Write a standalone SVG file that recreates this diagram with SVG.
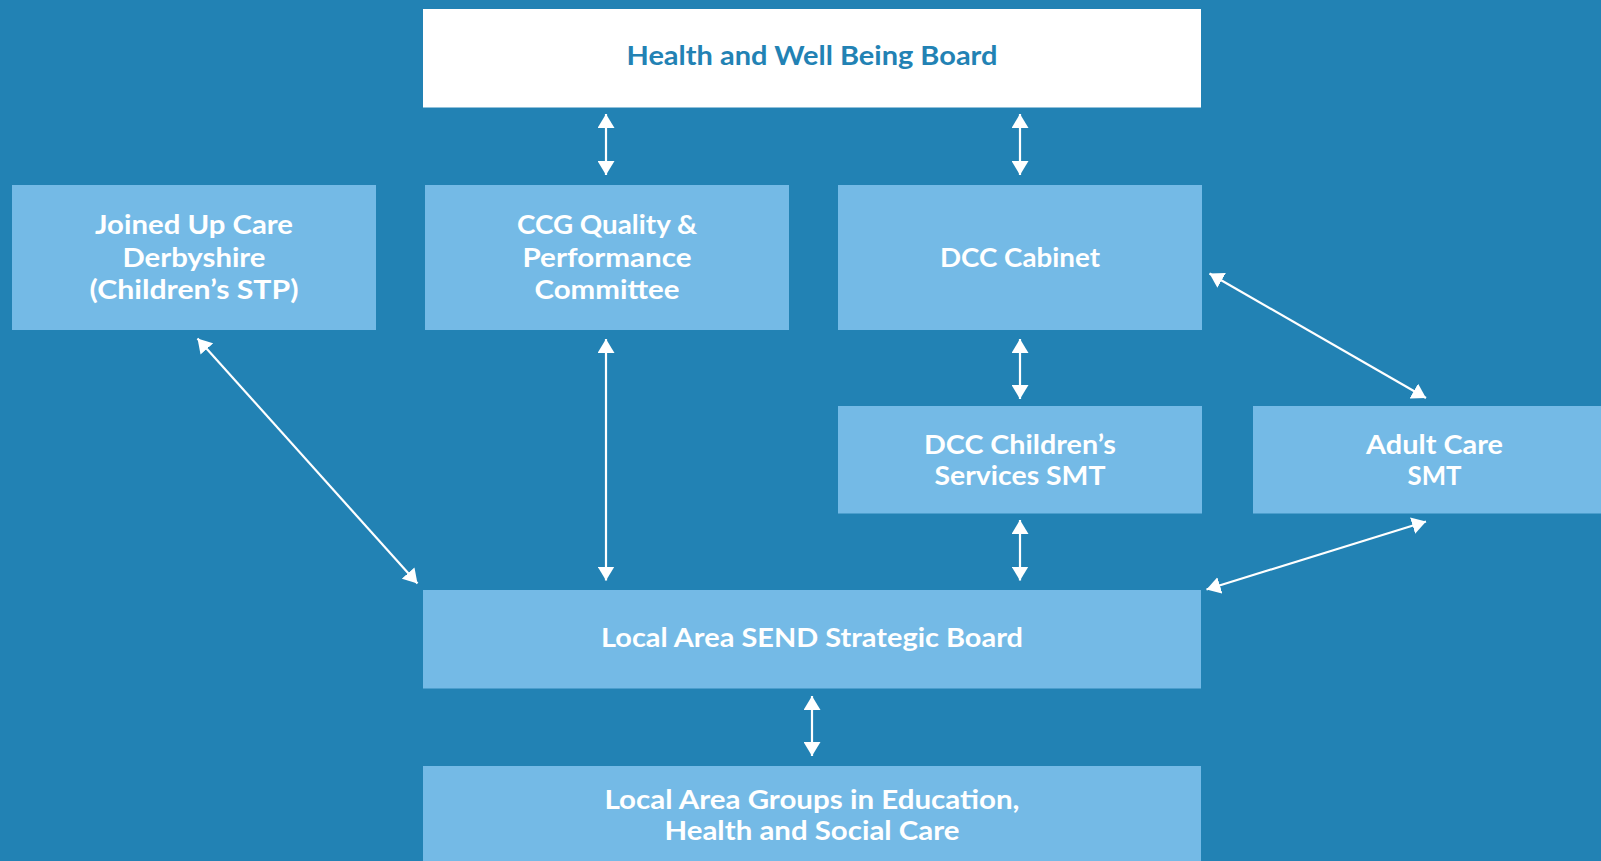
<svg xmlns="http://www.w3.org/2000/svg" width="1601" height="861" viewBox="0 0 1601 861">
  <defs>
    <style>
      .bg { fill: #2282b4; }
      .box { fill: #74bae6; }
      .box-top { fill: #ffffff; }
      .label { font-family: Lato, "Open Sans", "Liberation Sans", sans-serif; font-weight: 700; font-size: 27.5px; fill: #ffffff; text-anchor: middle; }
      .label-top { fill: #2282b4; }
      .link { stroke: #ffffff; stroke-width: 2.2; fill: none; marker-start: url(#head); marker-end: url(#head); }
    </style>
    <marker id="head" viewBox="0 0 14 17" refX="14" refY="8.5" markerWidth="14" markerHeight="17" markerUnits="userSpaceOnUse" orient="auto-start-reverse">
      <path d="M0,0 L14,8.5 L0,17 Z" fill="#ffffff"/>
    </marker>
  </defs>

  <rect class="bg" x="0" y="0" width="1601" height="861"/>

  <g id="health-wellbeing-board">
    <rect class="box-top" x="423" y="9" width="778" height="98.5"/>
    <text class="label label-top" x="812" y="65" textLength="371" lengthAdjust="spacingAndGlyphs">Health and Well Being Board</text>
  </g>

  <g id="joined-up-care">
    <rect class="box" x="12" y="185" width="364" height="145"/>
    <text class="label" x="194" y="234" textLength="198" lengthAdjust="spacingAndGlyphs">Joined Up Care</text>
    <text class="label" x="194" y="266.5" textLength="143" lengthAdjust="spacingAndGlyphs">Derbyshire</text>
    <text class="label" x="194" y="299" textLength="209" lengthAdjust="spacingAndGlyphs">(Children’s STP)</text>
  </g>

  <g id="ccg-quality">
    <rect class="box" x="425" y="185" width="364" height="145"/>
    <text class="label" x="607" y="234" textLength="180" lengthAdjust="spacingAndGlyphs">CCG Quality &amp;</text>
    <text class="label" x="607" y="266.5" textLength="169" lengthAdjust="spacingAndGlyphs">Performance</text>
    <text class="label" x="607" y="299" textLength="145" lengthAdjust="spacingAndGlyphs">Committee</text>
  </g>

  <g id="dcc-cabinet">
    <rect class="box" x="838" y="185" width="364" height="145"/>
    <text class="label" x="1020" y="266.5" textLength="160" lengthAdjust="spacingAndGlyphs">DCC Cabinet</text>
  </g>

  <g id="dcc-childrens-services">
    <rect class="box" x="838" y="406" width="364" height="107.5"/>
    <text class="label" x="1020" y="453.5" textLength="192" lengthAdjust="spacingAndGlyphs">DCC Children’s</text>
    <text class="label" x="1020" y="485" textLength="171" lengthAdjust="spacingAndGlyphs">Services SMT</text>
  </g>

  <g id="adult-care">
    <rect class="box" x="1253" y="406" width="348" height="107.5"/>
    <text class="label" x="1434.5" y="453.5" textLength="137" lengthAdjust="spacingAndGlyphs">Adult Care</text>
    <text class="label" x="1434.5" y="485" textLength="54" lengthAdjust="spacingAndGlyphs">SMT</text>
  </g>

  <g id="send-strategic-board">
    <rect class="box" x="423" y="590" width="778" height="98.5"/>
    <text class="label" x="812" y="646.5" textLength="422" lengthAdjust="spacingAndGlyphs">Local Area SEND Strategic Board</text>
  </g>

  <g id="local-area-groups">
    <rect class="box" x="423" y="766" width="778" height="95"/>
    <text class="label" x="812" y="809" textLength="415" lengthAdjust="spacingAndGlyphs">Local Area Groups in Education,</text>
    <text class="label" x="812" y="840" textLength="295" lengthAdjust="spacingAndGlyphs">Health and Social Care</text>
  </g>

  <g id="connectors">
    <line class="link" x1="606" y1="114" x2="606" y2="175"/>
    <line class="link" x1="1020" y1="114" x2="1020" y2="175"/>
    <line class="link" x1="1020" y1="339" x2="1020" y2="399"/>
    <line class="link" x1="1209.5" y1="273.5" x2="1426" y2="398"/>
    <line class="link" x1="197.5" y1="338.5" x2="417.5" y2="583.5"/>
    <line class="link" x1="606" y1="339" x2="606" y2="580.5"/>
    <line class="link" x1="1020" y1="520" x2="1020" y2="580.5"/>
    <line class="link" x1="1426" y1="521.5" x2="1206.5" y2="589.5"/>
    <line class="link" x1="812" y1="696" x2="812" y2="756"/>
  </g>
</svg>
